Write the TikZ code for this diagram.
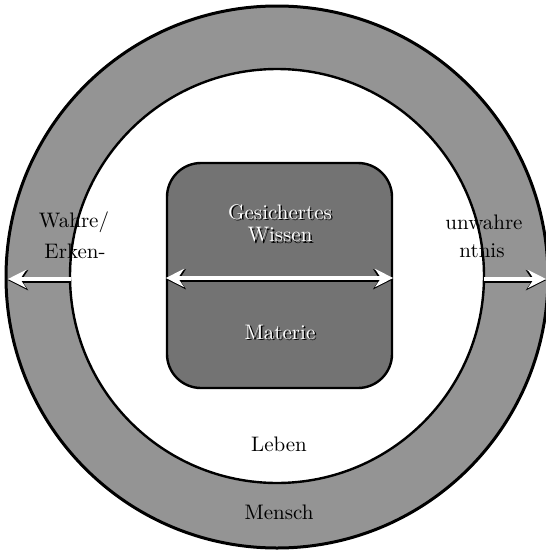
\documentclass[tikz,border=0pt]{standalone}
\usetikzlibrary{arrows.meta}
\definecolor{ringgray}{gray}{0.58}
\definecolor{boxgray}{gray}{0.45}
\tikzset{
  lbl/.style={font=\fontsize{10.5}{12}\selectfont, inner sep=0pt, text=black},
  wlbl/.style={font=\fontsize{10.5}{12}\selectfont, inner sep=0pt, text=white},
  slbl/.style={font=\fontsize{10.5}{12}\selectfont, inner sep=0pt, text=black},
  warrow/.style={white, line width=2pt, {Stealth[length=9pt,width=9pt]}-{Stealth[length=9pt,width=9pt]},
     preaction={draw=black, line width=3.2pt, transform canvas={yshift=-0.6pt}, {Stealth[length=10pt,width=10pt]}-{Stealth[length=10pt,width=10pt]}}},
  woarrow/.style={white, line width=2pt, -{Stealth[length=9pt,width=9pt]},
     preaction={draw=black, line width=3.2pt, transform canvas={yshift=-0.6pt}, -{Stealth[length=10pt,width=10pt]}}}
}
\begin{document}
\begin{tikzpicture}[x=0.5pt,y=-0.5pt]
\useasboundingbox (0,0) rectangle (546,552);
\node[circle, fill=ringgray, draw=black, line width=1.5pt, minimum size=271pt, inner sep=0pt] (outer) at (277,277) {};
\node[circle, fill=white, draw=black, line width=1.2pt, minimum size=207pt, inner sep=0pt] (inner) at (277,276) {};
\node[rectangle, rounded corners=17pt, fill=boxgray, draw=black, line width=1.2pt, minimum size=112.5pt, inner sep=0pt] (box) at (279.5,275.5) {};
\coordinate (ltip) at (8,279);
\coordinate (rtip) at (546,279);
\coordinate (lstart) at (71,279);
\coordinate (rstart) at (484,279);
\draw[warrow] (box.west |- 0,278) -- (box.east |- 0,278);
\draw[woarrow] (lstart) -- (ltip);
\draw[woarrow] (rstart) -- (rtip);
% texts
\node[lbl] (wahre) at (74,222) {Wahre/};
\node[lbl] (erken) at (75,251) {Erken-};
\node[lbl] (unwahre) at (484,222) {unwahre};
\node[lbl] (ntnis) at (482,251) {ntnis};
\node[lbl] (leben) at (279,444) {Leben};
\node[lbl] (mensch) at (279,512) {Mensch};
\node[slbl] (gesS) at (281.5,213.5) {Gesichertes};
\node[slbl] (wisS) at (281.5,236.5) {Wissen};
\node[slbl] (matS) at (281.5,333.5) {Materie};
\node[wlbl] (ges) at (280,212) {Gesichertes};
\node[wlbl] (wis) at (280,235) {Wissen};
\node[wlbl] (mat) at (280,332) {Materie};
\end{tikzpicture}
\end{document}
